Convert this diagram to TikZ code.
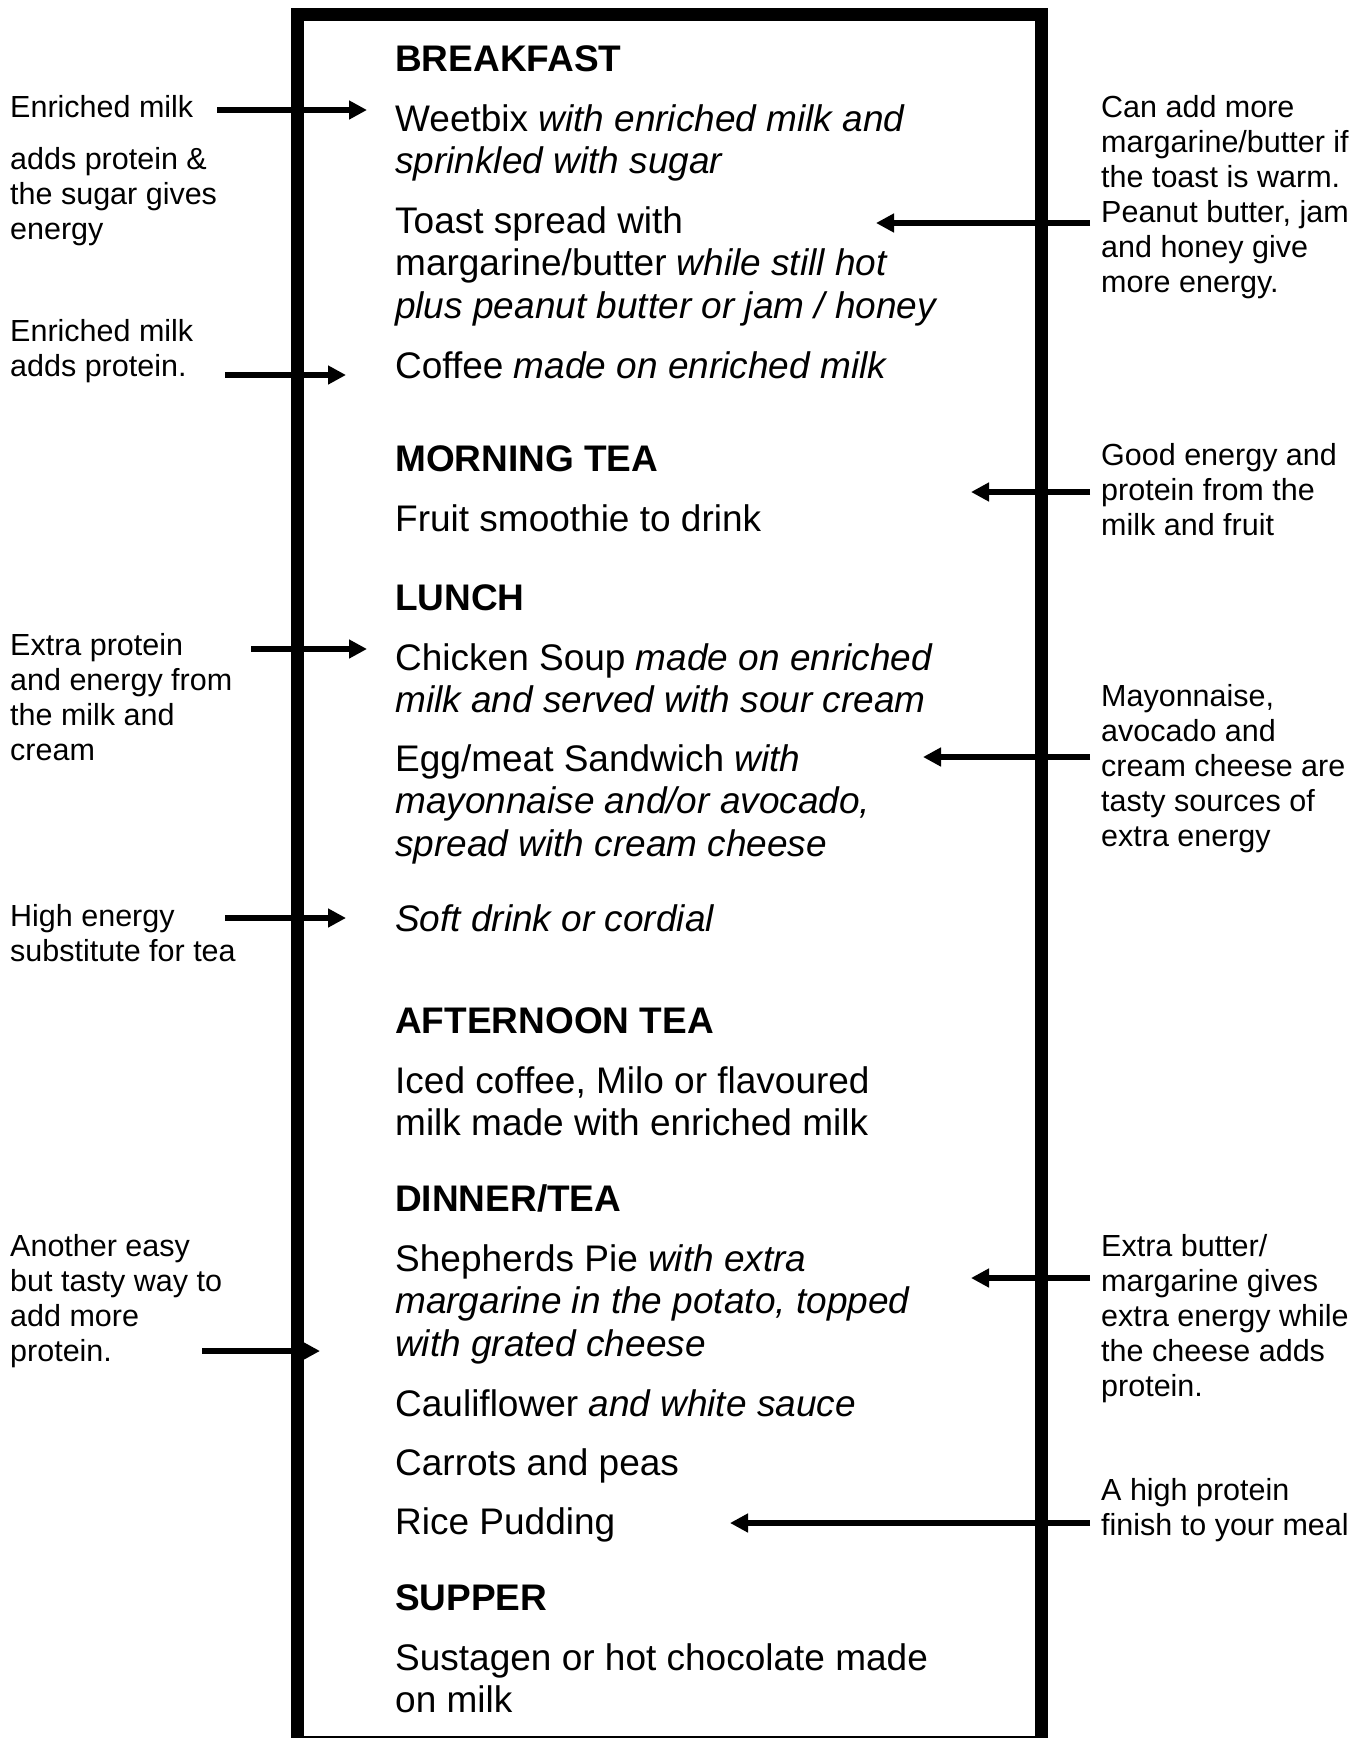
\documentclass[tikz,border=0pt]{standalone}
\usepackage{fontspec}
\setmainfont{Liberation Sans}
\usetikzlibrary{arrows.meta}

\begin{document}
\begin{tikzpicture}[x=1pt, y=-1pt,
  head/.style={anchor=base west, inner sep=0pt, font=\fontsize{37}{42.7}\selectfont\bfseries},
  item/.style={anchor=base west, inner sep=0pt, align=left, font=\fontsize{37}{42.7}\selectfont},
  note/.style={anchor=base west, inner sep=0pt, align=left, font=\fontsize{30.5}{35}\selectfont},
  pointer/.style={line width=6pt, -{Triangle[length=18pt, width=18pt]}}]
\useasboundingbox (0,0) rectangle (1365,1738);
\draw[line width=13pt] (297.5,14) rectangle (1041.5,1742.5);

% menu (multi-line nodes sit on the baseline of their last line)
\node[head] (breakfast) at (395,71) {BREAKFAST};
\node[item] (weetbix) at (395,173.7) {Weetbix \textit{with enriched milk and}\\\textit{sprinkled with sugar}};
\node[item] (toast) at (395,318.4) {Toast spread with\\margarine/butter \textit{while still hot}\\\textit{plus peanut butter or jam / honey}};
\node[item] (coffee) at (395,378) {Coffee \textit{made on enriched milk}};
\node[head] (morning) at (395,471) {MORNING TEA};
\node[item] (smoothie) at (395,531) {Fruit smoothie to drink};
\node[head] (lunch) at (395,610) {LUNCH};
\node[item] (soup) at (395,712.7) {Chicken Soup \textit{made on enriched}\\\textit{milk and served with sour cream}};
\node[item] (sandwich) at (395,856.4) {Egg/meat Sandwich \textit{with}\\\textit{mayonnaise and/or avocado,}\\\textit{spread with cream cheese}};
\node[item] (softdrink) at (395,931) {\textit{Soft drink or cordial}};
\node[head] (afternoon) at (395,1033) {AFTERNOON TEA};
\node[item] (iced) at (395,1135.7) {Iced coffee, Milo or flavoured\\milk made with enriched milk};
\node[head] (dinner) at (395,1211) {DINNER/TEA};
\node[item] (pie) at (395,1356.4) {Shepherds Pie \textit{with extra}\\\textit{margarine in the potato, topped}\\\textit{with grated cheese}};
\node[item] (cauli) at (395,1416) {Cauliflower \textit{and white sauce}};
\node[item] (carrots) at (395,1475) {Carrots and peas};
\node[item] (pudding) at (395,1534) {Rice Pudding};
\node[head] (supper) at (395,1610) {SUPPER};
\node[item] (sustagen) at (395,1712.7) {Sustagen or hot chocolate made\\on milk};

% notes on the left
\node[note] (milkA) at (10,117.5) {Enriched milk};
\node[note] (milkAtxt) at (10,239.7) {adds protein \&\\the sugar gives\\energy};
\node[note] (milkB) at (10,376.5) {Enriched milk\\adds protein.};
\node[note] (extra) at (10,760.4) {Extra protein\\and energy from\\the milk and\\cream};
\node[note] (high) at (10,961) {High energy\\substitute for tea};
\node[note] (easy) at (10,1361.4) {Another easy\\but tasty way to\\add more\\protein.};

% notes on the right
\node[note] (canadd) at (1101,292.5) {Can add more\\margarine/butter if\\the toast is warm.\\Peanut butter, jam\\and honey give\\more energy.};
\node[note] (good) at (1101,535.7) {Good energy and\\protein from the\\milk and fruit};
\node[note] (mayo) at (1101,846.4) {Mayonnaise,\\avocado and\\cream cheese are\\tasty sources of\\extra energy};
\node[note] (butter) at (1101,1396.4) {Extra butter/\\margarine gives\\extra energy while\\the cheese adds\\protein.};
\node[note] (finish) at (1101,1535.4) {A high protein\\finish to your meal};

% arrow ends
\coordinate (milkA-s) at (217,110);   \coordinate (milkA-e) at (367,110);
\coordinate (canadd-s) at (1090,223); \coordinate (canadd-e) at (876,223);
\coordinate (milkB-s) at (225,375);   \coordinate (milkB-e) at (346,375);
\coordinate (good-s) at (1090,492);   \coordinate (good-e) at (971,492);
\coordinate (extra-s) at (251,649);   \coordinate (extra-e) at (367,649);
\coordinate (mayo-s) at (1090,757);   \coordinate (mayo-e) at (923,757);
\coordinate (high-s) at (225,918);    \coordinate (high-e) at (346,918);
\coordinate (butter-s) at (1090,1278); \coordinate (butter-e) at (971,1278);
\coordinate (easy-s) at (202,1351);   \coordinate (easy-e) at (320,1351);
\coordinate (finish-s) at (1090,1523); \coordinate (finish-e) at (730,1523);

\foreach \n in {milkA,canadd,milkB,good,extra,mayo,high,butter,easy,finish}
  \draw[pointer] (\n-s) -- (\n-e);
\end{tikzpicture}
\end{document}
